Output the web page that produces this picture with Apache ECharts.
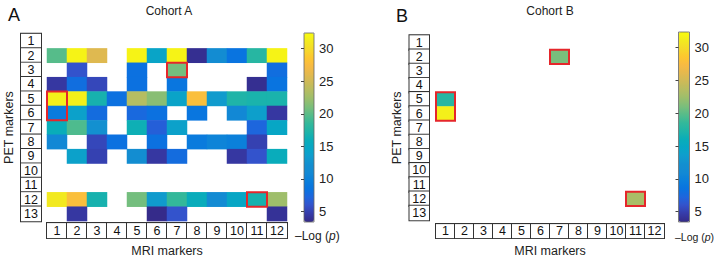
<!DOCTYPE html>
<html>
<head>
<meta charset="utf-8">
<script src="https://cdn.jsdelivr.net/npm/echarts@6/dist/echarts.min.js"></script>
<style>
  html, body { margin: 0; padding: 0; background: #fff; }
  #chart { width: 714px; height: 262px; }
</style>
</head>
<body>
<div id="chart"></div>
<script>
const mriLabels = ['1', '2', '3', '4', '5', '6', '7', '8', '9', '10', '11', '12'];
const petLabels = ['1', '2', '3', '4', '5', '6', '7', '8', '9', '10', '11', '12', '13'];
const barTicks = [5, 10, 15, 20, 25, 30];
const barMin = 3.4;
const barMax = 32.4;

// -Log(p) per PET marker row (1..13), one value per MRI marker (1..12); null = not significant
const cohortA = [
    [null, null, null, null, null, null, null, null, null, null, null, null],
    [19.8, 31.8, 25.8, null, 31.8, 14.5, 31.8, 3.8, 11.5, 8.5, 17.8, 31.8],
    [null, 6, null, null, 8.3, null, 20.8, null, null, null, null, 8],
    [4.4, 8, 5.3, null, 8.3, null, 8.8, null, null, null, 3.8, 8.5],
    [31.5, 31.5, 16.8, 8.3, 23.6, 21.6, 14.3, 27.8, 13.3, 17.3, 17, 17],
    [9.3, 14, 7.8, null, 7.5, 8.3, null, 8.8, null, 10.8, 13.8, 4.4],
    [16, 19.5, 12.3, null, 16.3, 6.8, 14, null, null, null, 7.3, 14.8],
    [10.8, null, 5.3, 8.3, null, 8.3, null, 9.3, 10.3, 9.8, 5, null],
    [null, 14, 5, null, 11.8, 4.4, 7.8, null, null, 4.4, 6, 15.8],
    [null, null, null, null, null, null, null, null, null, null, null, null],
    [null, null, null, null, null, null, null, null, null, null, null, null],
    [31, 27.8, 16.8, null, 20.8, 13.3, 18.5, 15.8, 11.3, 14.8, 16.8, 22.5],
    [null, 4.4, null, null, null, 3.5, 6, null, null, null, null, 4]
];

const cohortB = [
    [null, null, null, null, null, null, null, null, null, null, null, null],
    [null, null, null, null, null, null, 21, null, null, null, null, null],
    [null, null, null, null, null, null, null, null, null, null, null, null],
    [null, null, null, null, null, null, null, null, null, null, null, null],
    [17.8, null, null, null, null, null, null, null, null, null, null, null],
    [31.5, null, null, null, null, null, null, null, null, null, null, null],
    [null, null, null, null, null, null, null, null, null, null, null, null],
    [null, null, null, null, null, null, null, null, null, null, null, null],
    [null, null, null, null, null, null, null, null, null, null, null, null],
    [null, null, null, null, null, null, null, null, null, null, null, null],
    [null, null, null, null, null, null, null, null, null, null, null, null],
    [null, null, null, null, null, null, null, null, null, null, 23, null],
    [null, null, null, null, null, null, null, null, null, null, null, null]
];

// red outlines: [MRI marker, first PET marker, last PET marker]
const highlightsA = [[7, 3, 3], [1, 5, 6], [11, 12, 12]];
const highlightsB = [[7, 2, 2], [1, 5, 6], [11, 12, 12]];

// parula colour map
const parula = [
    '#352a87', '#363ba8', '#3452cb', '#1f65dd', '#0973e0', '#0a7fdb', '#1389d4', '#138fd0',
    '#0f9dcd', '#07a6c6', '#09adb9', '#1fb4a8', '#33b89a', '#56bc8a', '#7bbe7b', '#9bbe6c',
    '#b5bd62', '#cdba58', '#e4b94e', '#f8ba43', '#fdc72f', '#f6d92a', '#f2eb1f', '#f9fb0e'
];

const FONT = 'Liberation Sans';

function toCells(matrix) {
    const out = [];
    matrix.forEach((row, r) => {
        row.forEach((v, c) => {
            if (v !== null) out.push([c, r, v]);
        });
    });
    return out;
}

function toBoxes(list) {
    return list.map(h => [h[0] - 1, h[1] - 1, h[2] - 1]);
}

function outline(params, api) {
    const p0 = api.coord([api.value(0), api.value(1)]);
    const p1 = api.coord([api.value(0), api.value(2)]);
    const s = api.size([1, 1]);
    return {
        type: 'rect',
        shape: { x: p0[0] - s[0] / 2, y: p0[1] - s[1] / 2, width: s[0], height: p1[1] - p0[1] + s[1] },
        style: { fill: 'none', stroke: '#e5262b', lineWidth: 2 }
    };
}

function boxLabel(w, h) {
    return {
        interval: 0,
        formatter: v => '{b|' + v + '}',
        rich: {
            b: {
                width: w, height: h, lineHeight: h, align: 'center',
                borderColor: '#333', borderWidth: 1, backgroundColor: '#fff',
                fontSize: 12.5, color: '#111', fontFamily: FONT
            }
        }
    };
}

function heatX(grid, w, h, margin) {
    return {
        type: 'category', gridIndex: grid, data: mriLabels,
        axisLine: { show: false }, axisTick: { show: false }, splitLine: { show: false },
        axisLabel: Object.assign(boxLabel(w, h), { margin: margin }),
        name: 'MRI markers', nameLocation: 'middle', nameGap: 21,
        nameTextStyle: { fontSize: 12.5, color: '#222', fontFamily: FONT }
    };
}

function heatY(grid, w, h, margin, gap) {
    return {
        type: 'category', gridIndex: grid, data: petLabels, inverse: true,
        axisLine: { show: false }, axisTick: { show: false }, splitLine: { show: false },
        axisLabel: Object.assign(boxLabel(w, h), { margin: margin }),
        name: 'PET markers', nameLocation: 'middle', nameGap: gap,
        nameTextStyle: { fontSize: 12.5, color: '#222', fontFamily: FONT }
    };
}

function barY(grid) {
    return {
        type: 'value', gridIndex: grid, min: barMin, max: barMax, position: 'right', z: 10,
        axisLine: { show: false }, splitLine: { show: false },
        axisTick: { show: true, inside: true, length: 3, customValues: barTicks, lineStyle: { color: '#444' } },
        axisLabel: { customValues: barTicks, margin: 5, fontSize: 13, color: '#222', fontFamily: FONT }
    };
}

const chart = echarts.init(document.getElementById('chart'), null, { renderer: 'svg' });

chart.setOption({
    backgroundColor: '#fff',
    animation: false,
    textStyle: { fontFamily: FONT },
    grid: [
        { left: 47, top: 34, width: 240, height: 191 },
        { left: 436, top: 35.5, width: 228, height: 190 },
        { left: 304, top: 33, width: 10, height: 189, show: true, z: 10, borderColor: '#666', borderWidth: 0.8, backgroundColor: 'transparent' },
        { left: 678.5, top: 32, width: 11, height: 190, show: true, z: 10, borderColor: '#666', borderWidth: 0.8, backgroundColor: 'transparent' }
    ],
    xAxis: [
        heatX(0, 20, 15, 2),
        heatX(1, 19, 14, 4),
        { type: 'value', gridIndex: 2, show: false },
        { type: 'value', gridIndex: 3, show: false }
    ],
    yAxis: [
        heatY(0, 20, 14.7, 6, 32),
        heatY(1, 19.5, 14.6, 7, 33),
        barY(2),
        barY(3)
    ],
    visualMap: [
        {
            type: 'continuous', seriesIndex: 0, min: barMin, max: barMax,
            left: 304, top: 33, itemWidth: 10, itemHeight: 189, padding: 0,
            calculable: false, hoverLink: false, inRange: { color: parula }
        },
        {
            type: 'continuous', seriesIndex: 2, min: barMin, max: barMax,
            left: 678.5, top: 32, itemWidth: 11, itemHeight: 190, padding: 0,
            calculable: false, hoverLink: false, inRange: { color: parula }
        }
    ],
    series: [
        { type: 'heatmap', xAxisIndex: 0, yAxisIndex: 0, data: toCells(cohortA), emphasis: { disabled: true } },
        { type: 'custom', xAxisIndex: 0, yAxisIndex: 0, data: toBoxes(highlightsA), renderItem: outline, z: 5 },
        { type: 'heatmap', xAxisIndex: 1, yAxisIndex: 1, data: toCells(cohortB), emphasis: { disabled: true } },
        { type: 'custom', xAxisIndex: 1, yAxisIndex: 1, data: toBoxes(highlightsB), renderItem: outline, z: 5 }
    ],
    graphic: [
        { type: 'text', x: 8, y: 15, style: { text: 'A', fontSize: 18, fill: '#111', fontFamily: FONT, verticalAlign: 'middle' } },
        { type: 'text', x: 396, y: 16, style: { text: 'B', fontSize: 18, fill: '#111', fontFamily: FONT, verticalAlign: 'middle' } },
        { type: 'text', x: 169, y: 11, style: { text: 'Cohort A', fontSize: 12, fill: '#222', fontFamily: FONT, align: 'center', verticalAlign: 'middle' } },
        { type: 'text', x: 550, y: 11, style: { text: 'Cohort B', fontSize: 12, fill: '#222', fontFamily: FONT, align: 'center', verticalAlign: 'middle' } },
        {
            type: 'text', x: 295, y: 235.5,
            style: { text: '–Log ({i|p})', fontSize: 12, fill: '#222', fontFamily: FONT, verticalAlign: 'middle',
                rich: { i: { fontStyle: 'italic', fontSize: 12, fontFamily: FONT } } }
        },
        {
            type: 'text', x: 675, y: 237,
            style: { text: '–Log ({i|p})', fontSize: 10.5, fill: '#222', fontFamily: FONT, verticalAlign: 'middle',
                rich: { i: { fontStyle: 'italic', fontSize: 10.5, fontFamily: FONT } } }
        }
    ]
});
</script>
</body>
</html>
